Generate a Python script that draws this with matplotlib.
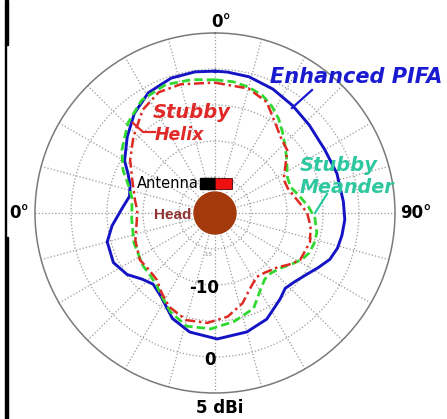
import numpy as np
import matplotlib
matplotlib.use('Agg')
import matplotlib.pyplot as plt
from matplotlib.patches import Rectangle, Circle
from matplotlib.lines import Line2D

W, H = 447, 419

# angle in degrees (clockwise from top), gain in dBi
pifa_ang = [0, 5, 14, 25, 36, 47, 60, 72, 85, 93, 100, 106, 112, 118, 124, 131, 137, 143,
            154, 165, 179, 192, 202, 213, 221, 228, 235, 244, 255, 263, 273, 281, 288,
            294, 300, 311, 321, 331, 342, 352]
pifa_db = [-0.3, -0.35, -0.5, -1.0, -1.6, -2.1, -2.4, -2.2, -2.1, -1.95, -2.1, -2.3, -2.8,
           -3.8, -4.7, -5.4, -5.7, -5.0, -3.6, -2.9, -2.5, -3.1, -4.2, -6.2, -6.9, -6.3,
           -5.1, -4.3, -4.5, -5.6, -7.1, -7.9, -7.6, -6.8, -5.5, -3.85, -2.2, -0.9, -0.3, -0.2]

meander_ang = [0, 8, 15, 22, 28, 34, 40, 46, 52, 58, 64, 71, 79, 86, 93, 101, 107, 113, 118,
               123, 130, 137, 143, 150, 158, 170, 182, 194, 204, 212, 219, 226, 234, 250,
               266, 280, 287, 295, 304, 316, 327, 339, 350]
meander_db = [-1.5, -1.6, -1.9, -2.4, -3.2, -4.2, -5.4, -6.5, -7.4, -8.2, -8.8, -8.9, -8.0,
              -7.0, -6.1, -5.6, -5.6, -5.8, -6.3, -7.1, -8.1, -8.6, -8.5, -7.5, -5.7, -4.7,
              -3.9, -3.8, -4.9, -6.2, -7.1, -7.5, -7.6, -8.0, -8.4, -8.3, -7.5, -5.9, -4.4,
              -2.6, -1.3, -0.9, -1.2]

helix_ang = [0, 15, 25, 34, 42, 49, 56, 64, 72, 83, 90, 98, 107, 119, 125, 131, 140, 147,
             156, 163, 173, 184, 195, 206, 214, 221, 230, 238, 251, 262, 272, 279, 292,
             302, 313, 325, 335, 345, 356]
helix_db = [-1.9, -2.1, -3.0, -5.0, -6.2, -6.7, -8.2, -9.4, -9.3, -8.2, -7.2, -6.6, -6.2,
            -6.5, -7.5, -8.5, -9.2, -9.4, -8.3, -6.9, -5.5, -4.7, -4.6, -5.5, -6.7, -7.7,
            -7.9, -7.7, -8.3, -9.0, -9.2, -8.75, -7.6, -6.1, -4.5, -2.5, -1.5, -1.5, -1.9]

ring_vals = [-15, -10, -5, 0]
r_min, r_max = -20, 5


def px(x, y):
    return x / W, 1 - y / H


def closed(ang, db):
    a = np.deg2rad(ang + ang[:1])
    return a, db + db[:1]


fig = plt.figure(figsize=(W / 100, H / 100), dpi=100)
fig.patch.set_facecolor('white')

cx, cy, R = 215, 213, 180
ax = fig.add_axes([(cx - R) / W, 1 - (cy + R) / H, 2 * R / W, 2 * R / H], projection='polar')
ax.set_theta_zero_location('N')
ax.set_theta_direction(-1)
ax.set_ylim(r_min, r_max)
ax.set_thetagrids(range(0, 360, 15), labels=[])
ax.set_rgrids(ring_vals, labels=[])
ax.grid(color='#9a9a9a', linestyle=':', linewidth=0.9)
ax.spines['polar'].set_color('#7a7a7a')
ax.spines['polar'].set_linewidth(1.1)

t, r = closed(pifa_ang, pifa_db)
ax.plot(t, r, color='#1414c4', lw=2.1, solid_joinstyle='round')
t, r = closed(meander_ang, meander_db)
ax.plot(t, r, color='#30d830', lw=2.0, linestyle=(0, (3, 1.5)))
t, r = closed(helix_ang, helix_db)
ax.plot(t, r, color='#dd2a22', lw=1.8, linestyle=(0, (4, 1.5, 1, 1.5)))

# head and antenna
ax.add_patch(Circle((0.5, 0.5), 21 / 360, transform=ax.transAxes, color='#a3390c', zorder=5))
ax.add_patch(Rectangle(((200 - 35) / 360, (393 - 189) / 360), 15 / 360, 11 / 360,
                       transform=ax.transAxes, color='black', zorder=5))
ax.add_patch(Rectangle(((215 - 35) / 360, (393 - 189) / 360), 17 / 360, 11 / 360,
                       transform=ax.transAxes, facecolor='#ee1111', edgecolor='#550000',
                       lw=0.6, zorder=5))

fam = ['DejaVu Sans']
bi = dict(family=fam, fontweight='bold', fontstyle='italic')
fig.text(*px(270, 77), 'Enhanced PIFA', color='#1a1ad0', fontsize=15, va='center', ha='left', **bi)
fig.text(*px(153, 112), 'Stubby', color='#e02a2a', fontsize=14, va='center', ha='left', **bi)
fig.text(*px(155, 135), 'Helix', color='#e02a2a', fontsize=12.5, va='center', ha='left', **bi)
fig.text(*px(300, 165), 'Stubby', color='#2ec8a0', fontsize=14, va='center', ha='left', **bi)
fig.text(*px(300, 187), 'Meander', color='#2ec8a0', fontsize=13.8, va='center', ha='left', **bi)
fig.text(*px(199, 183), 'Antenna', color='black', fontsize=10.5, va='center', ha='right', family=fam)
fig.text(*px(191, 215), 'Head', color='#933232', fontsize=11, va='center', ha='right',
         family=['Liberation Sans'], fontweight='bold')

b = dict(family=fam, fontweight='bold', color='black', fontsize=12)
fig.text(*px(221, 22), '0°', va='center', ha='center', **b)
fig.text(*px(400, 213), '90°', va='center', ha='left', **b)
fig.text(*px(9, 213), '0°', va='center', ha='left', **b)
fig.text(*px(204, 288), '-10', va='center', ha='center', **b)
fig.text(*px(210, 360), '0', va='center', ha='center', **b)
fig.text(*px(220, 408), '5 dBi', va='center', ha='center', **b)
fig.text(*px(208, 255), '-15', va='center', ha='center', color='#888888', fontsize=4, family=fam)

# label leaders
for pts, col in [([(312, 90), (292, 108)], '#1a1ad0'),
                 ([(133, 123), (143, 132), (155, 132)], '#e02a2a'),
                 ([(327, 194), (315, 213)], '#2ec8a0')]:
    xs = [px(*p)[0] for p in pts]
    ys = [px(*p)[1] for p in pts]
    fig.add_artist(Line2D(xs, ys, color=col, lw=1.6, transform=fig.transFigure))

# black crop edges on the left
for y0, y1, w in [(0, 45, 3), (45, 237, 1.2), (237, 419, 3)]:
    fig.add_artist(Rectangle((5 / W, 1 - y1 / H), w / W, (y1 - y0) / H,
                             transform=fig.transFigure, color='black'))

fig.savefig('out.png', dpi=100, facecolor='white')
